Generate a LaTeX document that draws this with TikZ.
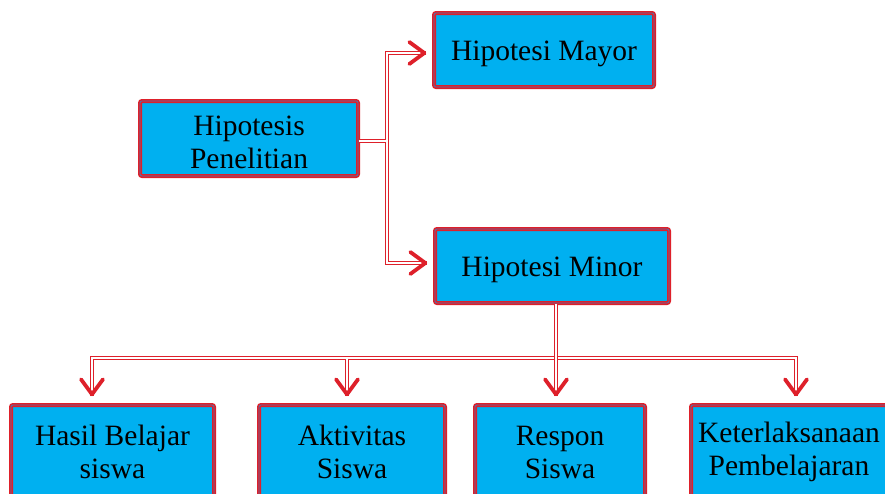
\documentclass[tikz,border=0pt]{standalone}
\usepackage{fontspec}
\setmainfont{Liberation Serif}
\usetikzlibrary{positioning,calc,arrows.meta}

\definecolor{boxred}{RGB}{222,32,42}
\definecolor{boxcyan}{RGB}{0,176,240}
\definecolor{boxblue}{RGB}{84,112,172}

\tikzset{
  box/.style={draw=boxred, line width=1.6pt, double=boxblue, double distance=0.8pt,
    fill=boxcyan, rounded corners=2pt, inner sep=0pt, align=center,
    font=\fontsize{29.5}{33}\selectfont},
  link/.style={draw=boxred, line width=1.4pt, double=white, double distance=1.5pt},
  tip/.style={draw=boxred, line width=3.8pt,
    -{Straight Barb[length=15pt,width=22pt,round]}}
}

\begin{document}
\begin{tikzpicture}[x=1pt,y=1pt,yscale=-1,xscale=1]
\useasboundingbox (0,0) rectangle (885,493);

% Text Node
\node (pen) at (249,138.5) [box, minimum width=218, minimum height=75] {\rule{0pt}{28pt}Hipotesis\\Penelitian};
\node (mayor) at (544,50) [box, minimum width=220, minimum height=74, text height=27pt, text depth=6.5pt] {Hipotesi Mayor};
\node (minor) at (552,266) [box, minimum width=234, minimum height=74, text height=27pt, text depth=6.5pt] {Hipotesi Minor};

\node (hasil) at (112.5,452) [box, minimum width=203, minimum height=94] {Hasil Belajar\\siswa};
\node (aktiv) at (352,452) [box, minimum width=186, minimum height=94] {Aktivitas\\Siswa};
\node (respon) at (560,452) [box, minimum width=170, minimum height=94] {Respon\\Siswa};
\node (keter) at (789,452) [box, minimum width=196, minimum height=94] {Keterlaksanaan\\Pembelajaran};

\coordinate (j0) at (387,141);
\coordinate (d1) at (92,358);
\coordinate (d2) at (347,358);
\coordinate (d3) at (556,358);
\coordinate (d4) at (796,358);

% upper branch
\draw [link] ($(mayor.west)+(-7,3)$) -| (j0) |- ($(minor.west)+(-7,-3)$);
\draw [link] (pen.east |- j0) -- ($(j0)+(-0.75,0)$);
\draw [tip] ($(mayor.west)+(-7.01,3)$) -- ($(mayor.west)+(-7,3)$);
\draw [tip] ($(minor.west)+(-7.01,-3)$) -- ($(minor.west)+(-7,-3)$);

% lower branch
\draw [link] ($(d1 |- hasil.north)+(0,-8)$) -- (d1) -- (d4) -- ($(d4 |- keter.north)+(0,-8)$);
\draw [link] ($(d2)+(0,0.75)$) -- ($(d2 |- aktiv.north)+(0,-8)$);
\draw [link] (minor.south -| d3) -- ($(d3 |- respon.north)+(0,-8)$);
\draw [tip] ($(d1 |- hasil.north)+(0,-8.01)$) -- ($(d1 |- hasil.north)+(0,-8)$);
\draw [tip] ($(d2 |- aktiv.north)+(0,-8.01)$) -- ($(d2 |- aktiv.north)+(0,-8)$);
\draw [tip] ($(d3 |- respon.north)+(0,-8.01)$) -- ($(d3 |- respon.north)+(0,-8)$);
\draw [tip] ($(d4 |- keter.north)+(0,-8.01)$) -- ($(d4 |- keter.north)+(0,-8)$);

\end{tikzpicture}
\end{document}
